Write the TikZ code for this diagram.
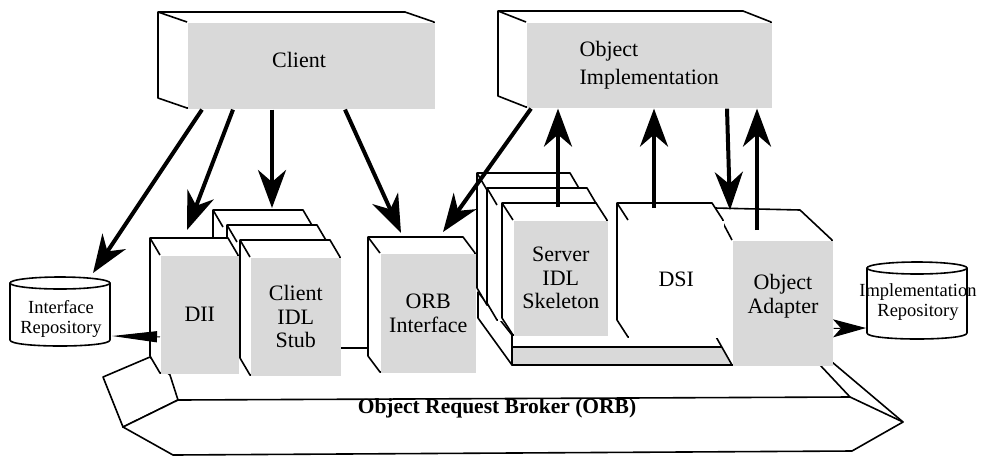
\documentclass[tikz,border=0pt]{standalone}
\usepackage{fontspec}
\setmainfont{Liberation Serif}
\usetikzlibrary{arrows.meta}
\definecolor{facegray}{gray}{0.85}
\newcommand{\boxfont}{\fontsize{22}{23.5}\selectfont}
\tikzset{
  edge/.style={line width=1.6pt, line join=round},
  face/.style={edge, inner sep=0pt, anchor=north west, align=center, font=\boxfont},
  lbl/.style={font=\boxfont, align=center, inner sep=0pt},
  replbl/.style={font=\fontsize{18.5}{20.5}\selectfont, align=center, inner sep=0pt},
  flow/.style={line width=4pt, -{Stealth[length=38pt,width=28pt,inset=12pt]}},
  slimflow/.style={line width=1pt, -{Triangle[length=45pt,width=11pt]}},
  sideflow/.style={line width=1pt, -{Stealth[length=33pt,width=18pt,inset=8pt]}}
}
% A box seen from the front-right: white body (top and left faces) plus a front face node.
% #1 name, #2 x1, #3 y1, #4 x2, #5 y2 (front face), #6 dx, #7 dy (depth), #8 node options, #9 text
\newcommand{\corbabox}[9]{%
  \filldraw[edge, fill=white] (#2-#6,#3-#7) -- (#4-#6,#3-#7) -- (#4,#3) -- (#4,#5) -- (#2,#5) -- (#2-#6,#5-#7) -- cycle;
  \draw[edge] (#2-#6,#3-#7) -- (#2,#3);
  \pgfmathsetmacro{\fw}{#4-#2}\pgfmathsetmacro{\fh}{#5-#3}
  \node[face, minimum width=\fw pt, minimum height=\fh pt, #8] (#1) at (#2,#3) {#9};
}
\begin{document}
\begin{tikzpicture}[x=1pt, y=-1pt]
\useasboundingbox (0,0) rectangle (990,456);

% ORB slab: left cap, front face, right end
\filldraw[edge, fill=white] (123,427) -- (103,377) -- (150,357) -- (170,375) -- (178,400) -- cycle;
\filldraw[edge, fill=white] (178,400) -- (850,397) -- (903,422) -- (852,451) -- (173,455) -- (123,427) -- cycle;
\draw[edge] (832,362) -- (903,422);
\draw[edge] (820,365) -- (850,397);
\draw[edge] (340,348) -- (372,348);

% server-side platform
\filldraw[edge, fill=white] (478,292) -- (512,335) -- (512,365) -- (478,318) -- cycle;
\filldraw[edge, fill=facegray] (512,347) rectangle (832,365);

% client-side components (rear boxes first)
\corbabox{stubc}{223}{227}{313}{345}{10}{17}{fill=white}{}
\corbabox{stubb}{237}{242}{327}{360}{10}{17}{fill=white}{}
\corbabox{dii}{160}{255}{238}{373}{10}{17}{fill=facegray}{DII}
\corbabox{stub}{250}{257}{340}{375}{10}{17}{fill=facegray}{Client\\IDL\\Stub}
\corbabox{orbi}{380}{253}{475}{372}{12}{16}{fill=facegray}{ORB\\Interface}

% server-side components
\corbabox{skelc}{487}{190}{580}{305}{10}{17}{fill=white}{}
\corbabox{skelb}{497}{205}{597}{320}{10}{17}{fill=white}{}
\corbabox{skel}{513}{220}{607}{335}{11}{17}{fill=facegray}{Server\\IDL\\Skeleton}

\filldraw[edge, fill=white] (715,208) -- (800,210) -- (832,240) -- (832,365) -- (732,365) -- (715,335) -- cycle;
\draw[edge] (715,208) -- (732,240);
\node[face, fill=facegray, minimum width=100pt, minimum height=125pt] (oa) at (732,240) {};
\node[lbl] (oatext) at (783,296) {Object\\Adapter};

\corbabox{dsi}{628}{220}{723}{337}{11}{17}{fill=white}{DSI}

% repositories
\filldraw[edge, fill=white] (10,283) -- (10,340) .. controls (10,348) and (110,348) .. (110,340) -- (110,283) -- cycle;
\filldraw[edge, fill=white] (60,283) ellipse [x radius=50, y radius=6];
\node[replbl] (ir) at (61,319) {Interface\\Repository};

\filldraw[edge, fill=white] (867,268) -- (867,333) .. controls (867,341) and (967,341) .. (967,333) -- (967,268) -- cycle;
\filldraw[edge, fill=white] (917,268) ellipse [x radius=50, y radius=6];
\node[replbl] (impr) at (918,302) {Implementation\\Repository};

% top-level boxes
\corbabox{client}{187}{22}{434}{108}{29}{10}{fill=facegray}{}
\node[lbl] (clienttext) at (299,60) {Client};
\corbabox{impl}{526}{22}{771}{107}{28}{11}{fill=facegray, align=left, font=\fontsize{22}{28}\selectfont}{Object\\Implementation}

% arrow end points on the components
\coordinate (irtop) at (93,273);
\coordinate (diitop) at (187,230);
\coordinate (stubtop) at (272,208);
\coordinate (orbtopl) at (401,233);
\coordinate (orbtopr) at (443,232);
\coordinate (skeltop) at (558,207);
\coordinate (dsitop) at (654,208);
\coordinate (oatopl) at (730,210);
\coordinate (oatopr) at (757,230);
\coordinate (irside) at (112,336);
\coordinate (imprside) at (866,328);

% calls
\draw[flow] ([xshift=15pt]client.south west) -- (irtop);
\draw[flow] ([xshift=46pt]client.south west) -- (diitop);
\draw[flow] ([xshift=85pt]client.south west) -- (stubtop);
\draw[flow] ([xshift=158pt]client.south west) -- (orbtopl);
\draw[flow] ([xshift=5pt]impl.south west) -- (orbtopr);
\draw[flow] (skeltop) -- ([xshift=32pt]impl.south west);
\draw[flow] (dsitop) -- ([xshift=128pt]impl.south west);
\draw[flow] ([xshift=201pt]impl.south west) -- (oatopl);
\draw[flow] (oatopr) -- ([xshift=231pt]impl.south west);
\draw[slimflow] ([yshift=-22pt]dii.west) -- (irside);
\draw[sideflow] ([yshift=-25pt]oa.east) -- (imprside);

\node[font=\fontsize{21.5}{24}\selectfont\bfseries, inner sep=0pt] (orb) at (497,408) {Object Request Broker (ORB)};
\end{tikzpicture}
\end{document}
